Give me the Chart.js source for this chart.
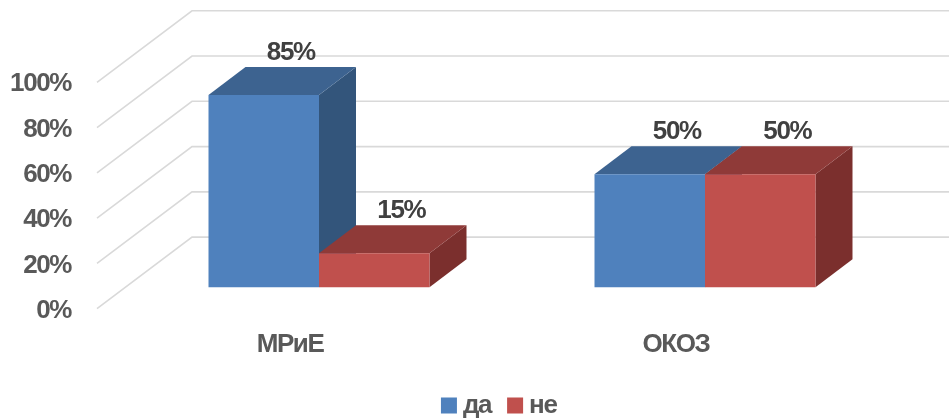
<!DOCTYPE html>
<html>
<head>
<meta charset="utf-8">
<style>html,body{margin:0;padding:0;background:#fff}#w{width:949px;height:420px}</style>
<script src="https://cdn.jsdelivr.net/npm/chart.js@4/dist/chart.umd.js"></script>
</head>
<body>
<div id="w"><canvas id="c"></canvas></div>
<script>
const categories = ['МРиЕ', 'ОКОЗ'];
const seriesDa = [85, 50];
const seriesNe = [15, 50];
const seriesNames = ['да', 'не'];
const yTicks = [0, 20, 40, 60, 80, 100];

const FONT = '"Liberation Sans",Arial,sans-serif';
const FONT_SIZE = 26;
const TIGHT = '-1.4px';
const WALL = {dx: 95, dy: -71.5};       // floor depth of the 3D box
const PLANE = {dx: 29, dy: -21.3};      // bars sit part-way back on the floor
const DEPTH = {dx: 37, dy: -28};        // depth of each bar
const FACES = [
  {front: '#4F81BD', top: '#3D6390', side: '#33557B'},
  {front: '#C0504D', top: '#8F3A38', side: '#7B2F2D'}
];

const poly = (ctx, pts, fill) => {
  ctx.beginPath();
  pts.forEach((p, i) => i ? ctx.lineTo(p[0], p[1]) : ctx.moveTo(p[0], p[1]));
  ctx.closePath();
  ctx.fillStyle = fill;
  ctx.fill();
};

const box3d = {
  id: 'box3d',
  beforeInit(chart) { chart.ctx.letterSpacing = TIGHT; },
  beforeUpdate(chart) { chart.ctx.letterSpacing = TIGHT; },
  beforeDraw(chart) { chart.ctx.letterSpacing = TIGHT; },
  afterLayout(chart) {
    chart.legend.left += 67.7;
    chart.legend.right += 67.7;
  },
  beforeDatasetsDraw(chart) {
    const {ctx, chartArea, scales: {y}} = chart;
    ctx.save();
    ctx.strokeStyle = '#D9D9D9';
    ctx.lineWidth = 1.6;
    yTicks.forEach(t => {
      const py = y.getPixelForValue(t);
      ctx.beginPath();
      ctx.moveTo(chartArea.left, py);
      ctx.lineTo(chartArea.left + WALL.dx, py + WALL.dy);
      ctx.lineTo(chart.width, py + WALL.dy);
      ctx.stroke();
    });
    ctx.restore();

    ctx.save();
    ctx.translate(PLANE.dx, PLANE.dy);
    chart.data.datasets.forEach((ds, di) => {
      const f = FACES[di];
      chart.getDatasetMeta(di).data.forEach(bar => {
        const l = bar.x - bar.width / 2, r = bar.x + bar.width / 2, t = bar.y, b = bar.base;
        poly(ctx, [[r, t], [r + DEPTH.dx, t + DEPTH.dy], [r + DEPTH.dx, b + DEPTH.dy], [r, b]], f.side);
        poly(ctx, [[l, t], [l + DEPTH.dx, t + DEPTH.dy], [r + DEPTH.dx, t + DEPTH.dy], [r, t]], f.top);
        bar.draw(ctx);
      });
    });
    ctx.restore();
    return false;
  },
  afterDraw(chart) {
    const {ctx} = chart;
    ctx.save();
    ctx.font = 'bold ' + FONT_SIZE + 'px ' + FONT;
    ctx.fillStyle = '#404040';
    ctx.textAlign = 'center';
    ctx.textBaseline = 'middle';
    chart.data.datasets.forEach((ds, di) => {
      chart.getDatasetMeta(di).data.forEach((bar, i) => {
        ctx.fillText(ds.data[i] + '%', bar.x + PLANE.dx + 27, bar.y + PLANE.dy - 42.5);
      });
    });
    ctx.restore();
  }
};

new Chart(document.getElementById('c'), {
  type: 'bar',
  data: {
    labels: categories,
    datasets: [
      {label: seriesNames[0], data: seriesDa, backgroundColor: FACES[0].front},
      {label: seriesNames[1], data: seriesNe, backgroundColor: FACES[1].front}
    ]
  },
  options: {
    responsive: true,
    maintainAspectRatio: false,
    animation: false,
    categoryPercentage: 0.5725,
    barPercentage: 1,
    layout: {padding: {top: 82.3, left: 0, right: 80, bottom: -8.5}},
    scales: {
      x: {
        grid: {display: false},
        border: {display: false},
        ticks: {color: '#595959', font: {family: FONT, size: FONT_SIZE, weight: 'bold'}, padding: 13, maxRotation: 0},
        afterFit: s => { s.height = 60.9; }
      },
      y: {
        min: 0,
        max: 100,
        grid: {display: false},
        border: {display: false},
        afterBuildTicks: s => { s.ticks = yTicks.map(v => ({value: v})); },
        ticks: {color: '#595959', font: {family: FONT, size: FONT_SIZE, weight: 'bold'}, padding: 18, labelOffset: 2, callback: v => v + '%'},
        afterFit: s => { s.width = 97; }
      }
    },
    plugins: {
      tooltip: {enabled: false},
      legend: {
        position: 'bottom',
        labels: {
          usePointStyle: true,
          pointStyle: 'rect',
          boxHeight: 16,
          boxWidth: 2,
          padding: 23,
          color: '#595959',
          font: {family: FONT, size: FONT_SIZE, weight: 'bold'}
        }
      }
    }
  },
  plugins: [box3d]
});
</script>
</body>
</html>
